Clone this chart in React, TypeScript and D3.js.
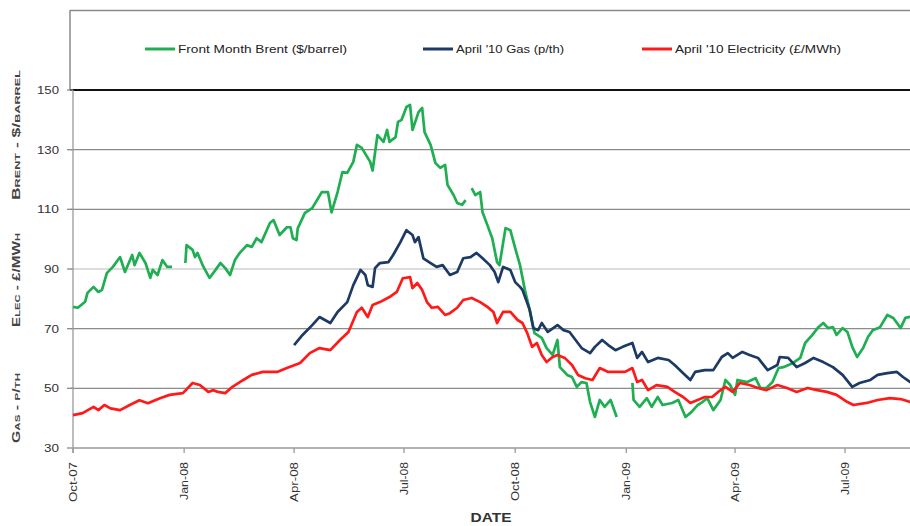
import React from "react";
import * as d3 from "d3";

type Pt = [string, number | null];

const brent: Pt[] = [
  ["2007-10-01", 77.3], ["2007-10-05", 77], ["2007-10-11", 79], ["2007-10-13", 82], ["2007-10-18", 84],
  ["2007-10-22", 82.3], ["2007-10-25", 83], ["2007-10-29", 88.6], ["2007-11-03", 90.7], ["2007-11-09", 94],
  ["2007-11-13", 89], ["2007-11-19", 94.7], ["2007-11-21", 91.3], ["2007-11-25", 95.4], ["2007-11-30", 92],
  ["2007-12-04", 87], ["2007-12-06", 89.7], ["2007-12-10", 88], ["2007-12-14", 93], ["2007-12-18", 90.7],
  ["2007-12-22", 90.7], ["2007-12-28", null],
  ["2008-01-02", 92], ["2008-01-03", 98], ["2008-01-08", 96.4], ["2008-01-10", 94], ["2008-01-12", 95.4],
  ["2008-01-17", 90.7], ["2008-01-22", 87], ["2008-01-27", 89.7], ["2008-01-31", 92], ["2008-02-04", 90.3],
  ["2008-02-08", 88], ["2008-02-12", 93], ["2008-02-16", 95.4], ["2008-02-22", 98], ["2008-02-26", 97.4],
  ["2008-03-01", 100.3], ["2008-03-05", 99], ["2008-03-12", 105.4], ["2008-03-15", 106.4], ["2008-03-20", 101.4],
  ["2008-03-26", 104], ["2008-03-29", 104], ["2008-03-31", 100.3], ["2008-04-03", 99.7], ["2008-04-04", 103.6],
  ["2008-04-10", 108.8], ["2008-04-16", 110.4], ["2008-04-24", 115.8], ["2008-04-29", 115.8], ["2008-05-02", 109],
  ["2008-05-07", 115.8], ["2008-05-11", 122.5], ["2008-05-15", 122.2], ["2008-05-20", 125.9], ["2008-05-23", 131.6],
  ["2008-05-27", 130.6], ["2008-06-03", 125.9], ["2008-06-05", 123], ["2008-06-09", 134.9], ["2008-06-14", 132.6],
  ["2008-06-17", 136.6], ["2008-06-19", 132.6], ["2008-06-24", 134.2], ["2008-06-26", 139.3], ["2008-06-29", 140],
  ["2008-07-03", 144.3], ["2008-07-06", 145], ["2008-07-08", 136.6], ["2008-07-13", 142.6], ["2008-07-16", 144],
  ["2008-07-18", 135.9], ["2008-07-23", 131.6], ["2008-07-27", 125.5], ["2008-07-31", 123.9], ["2008-08-04", 124.9],
  ["2008-08-06", 118.2], ["2008-08-11", 114.8], ["2008-08-14", 112.1], ["2008-08-18", 111.5], ["2008-08-21", 113.1],
  ["2008-08-24", null],
  ["2008-08-26", 117.1], ["2008-08-29", 114.8], ["2008-09-02", 115.8], ["2008-09-04", 109], ["2008-09-08", 104.7],
  ["2008-09-12", 100.3], ["2008-09-16", 92.3], ["2008-09-18", 91.3], ["2008-09-23", 103.7], ["2008-09-27", 103],
  ["2008-10-01", 97], ["2008-10-05", 91.3], ["2008-10-09", 83], ["2008-10-13", 76.3], ["2008-10-17", 68.5],
  ["2008-10-23", 66.9], ["2008-10-27", 63.5], ["2008-11-01", 61.2], ["2008-11-05", 66.2], ["2008-11-07", 57.1],
  ["2008-11-13", 54.5], ["2008-11-17", 53.8], ["2008-11-21", 50.5], ["2008-11-25", 52.1], ["2008-11-29", 51.8],
  ["2008-12-02", 45.4], ["2008-12-06", 40.4], ["2008-12-10", 46.1], ["2008-12-14", 43.8], ["2008-12-19", 46.1],
  ["2008-12-24", 40.4], ["2008-12-29", null],
  ["2009-01-06", 51.8], ["2009-01-07", 46.1], ["2009-01-12", 43.8], ["2009-01-18", 46.7], ["2009-01-22", 43.8],
  ["2009-01-27", 47.1], ["2009-01-31", 44.4], ["2009-02-08", 45.1], ["2009-02-13", 46.1], ["2009-02-19", 40.4],
  ["2009-02-24", 42.1], ["2009-03-01", 44.4], ["2009-03-05", 45.4], ["2009-03-09", 46.7], ["2009-03-14", 42.7],
  ["2009-03-20", 46.1], ["2009-03-24", 52.8], ["2009-03-28", 51.1], ["2009-04-01", 47.8], ["2009-04-03", 52.8],
  ["2009-04-11", 52.1], ["2009-04-18", 53.4], ["2009-04-22", 50.1], ["2009-04-27", 50.1], ["2009-05-02", 52.1],
  ["2009-05-07", 56.8], ["2009-05-11", 57.1], ["2009-05-19", 58.5], ["2009-05-25", 60.2], ["2009-05-29", 65.2],
  ["2009-06-04", 67.9], ["2009-06-09", 70.5], ["2009-06-13", 71.9], ["2009-06-17", 70.2], ["2009-06-21", 70.5],
  ["2009-06-24", 67.9], ["2009-06-29", 70.2], ["2009-07-03", 68.9], ["2009-07-07", 63.9], ["2009-07-11", 60.5],
  ["2009-07-16", 63.5], ["2009-07-20", 67.2], ["2009-07-24", 69.5], ["2009-07-30", 70.5], ["2009-08-05", 74.6],
  ["2009-08-10", 73.6], ["2009-08-16", 70.2], ["2009-08-20", 73.6], ["2009-08-24", 74], ["2009-08-28", 74],
];

const gas: Pt[] = [
  ["2008-04-01", 64.5], ["2008-04-08", 67.9], ["2008-04-16", 71.2], ["2008-04-22", 73.9], ["2008-05-01", 71.9],
  ["2008-05-07", 75.6], ["2008-05-15", 78.9], ["2008-05-20", 84.6], ["2008-05-26", 89.7], ["2008-05-30", 88],
  ["2008-06-01", 84.6], ["2008-06-05", 84], ["2008-06-07", 90.3], ["2008-06-11", 92], ["2008-06-18", 92.3],
  ["2008-06-22", 94.7], ["2008-06-28", 99], ["2008-07-03", 103], ["2008-07-08", 101.4], ["2008-07-10", 99],
  ["2008-07-13", 100.7], ["2008-07-17", 93.6], ["2008-07-23", 92], ["2008-07-28", 90.7], ["2008-08-02", 91.3],
  ["2008-08-08", 88], ["2008-08-14", 89], ["2008-08-19", 93.6], ["2008-08-25", 94], ["2008-08-30", 95.4],
  ["2008-09-04", 93.6], ["2008-09-10", 91.3], ["2008-09-14", 89], ["2008-09-17", 85.6], ["2008-09-21", 90.7],
  ["2008-09-27", 89.7], ["2008-10-01", 85.6], ["2008-10-05", 84], ["2008-10-07", 83], ["2008-10-11", 78.6],
  ["2008-10-13", 76.3], ["2008-10-16", 70.2], ["2008-10-20", 69.5], ["2008-10-23", 71.9], ["2008-10-28", 68.9],
  ["2008-11-05", 71.2], ["2008-11-10", 69.5], ["2008-11-15", 68.9], ["2008-11-20", 66.2], ["2008-11-25", 63.5],
  ["2008-12-02", 61.8], ["2008-12-06", 63.9], ["2008-12-12", 66.2], ["2008-12-17", 64.5], ["2008-12-23", 62.8],
  ["2008-12-29", 63.9], ["2009-01-06", 65.2], ["2009-01-10", 60.2], ["2009-01-14", 62.2], ["2009-01-19", 58.8],
  ["2009-01-27", 60.2], ["2009-02-05", 59.5], ["2009-02-10", 57.8], ["2009-02-16", 55.5], ["2009-02-23", 52.8],
  ["2009-02-27", 55.5], ["2009-03-07", 56.1], ["2009-03-14", 56.1], ["2009-03-21", 60.5], ["2009-03-26", 61.8],
  ["2009-03-30", 60.2], ["2009-04-07", 62.2], ["2009-04-13", 61.2], ["2009-04-20", 60.2], ["2009-04-28", 56.1],
  ["2009-05-06", 57.8], ["2009-05-08", 60.5], ["2009-05-15", 60.2], ["2009-05-22", 57.1], ["2009-05-29", 58.5],
  ["2009-06-05", 60.2], ["2009-06-13", 58.8], ["2009-06-21", 57.1], ["2009-06-29", 54.5], ["2009-07-07", 50.5],
  ["2009-07-13", 51.8], ["2009-07-22", 52.8], ["2009-07-28", 54.5], ["2009-08-05", 55.1], ["2009-08-13", 55.5],
  ["2009-08-18", 53.8], ["2009-08-24", 52.1], ["2009-08-28", 51.5],
];

const elec: Pt[] = [
  ["2007-10-01", 41], ["2007-10-09", 41.7], ["2007-10-18", 43.8], ["2007-10-22", 42.7], ["2007-10-27", 44.4],
  ["2007-11-01", 43.3], ["2007-11-09", 42.7], ["2007-11-17", 44.4], ["2007-11-25", 46], ["2007-12-02", 45],
  ["2007-12-12", 46.7], ["2007-12-20", 47.8], ["2007-12-31", 48.4], ["2008-01-08", 51.8], ["2008-01-14", 51.1],
  ["2008-01-21", 48.8], ["2008-01-25", 49.4], ["2008-01-29", 48.8], ["2008-02-04", 48.4], ["2008-02-10", 50.5],
  ["2008-02-19", 52.8], ["2008-02-26", 54.5], ["2008-03-06", 55.5], ["2008-03-18", 55.5], ["2008-03-26", 56.8],
  ["2008-04-06", 58.5], ["2008-04-14", 61.8], ["2008-04-22", 63.5], ["2008-05-01", 62.8], ["2008-05-09", 66.2],
  ["2008-05-16", 68.9], ["2008-05-23", 75.6], ["2008-05-27", 77], ["2008-06-01", 73.9], ["2008-06-05", 77.9],
  ["2008-06-11", 78.9], ["2008-06-19", 80.6], ["2008-06-25", 82.3], ["2008-06-30", 86.9], ["2008-07-06", 87.3],
  ["2008-07-08", 83.6], ["2008-07-12", 85.3], ["2008-07-16", 83], ["2008-07-20", 78.9], ["2008-07-24", 77],
  ["2008-07-29", 77.3], ["2008-08-04", 74.6], ["2008-08-08", 75.2], ["2008-08-14", 77], ["2008-08-19", 79.6],
  ["2008-08-26", 80.3], ["2008-09-02", 78.9], ["2008-09-08", 77.3], ["2008-09-13", 75.6], ["2008-09-16", 71.9],
  ["2008-09-21", 75.6], ["2008-09-27", 75.6], ["2008-10-03", 72.9], ["2008-10-07", 71.9], ["2008-10-11", 68.5],
  ["2008-10-15", 63.9], ["2008-10-19", 65.2], ["2008-10-23", 61.2], ["2008-10-27", 58.8], ["2008-11-01", 60.5],
  ["2008-11-05", 61.2], ["2008-11-11", 60.2], ["2008-11-17", 57.8], ["2008-11-22", 54.5], ["2008-11-28", 53.4],
  ["2008-12-04", 52.8], ["2008-12-10", 56.8], ["2008-12-17", 55.5], ["2008-12-24", 55.5], ["2008-12-31", 55.5],
  ["2009-01-06", 56.8], ["2009-01-10", 52.1], ["2009-01-14", 52.8], ["2009-01-19", 49.4], ["2009-01-26", 51.1],
  ["2009-02-04", 50.5], ["2009-02-10", 48.8], ["2009-02-17", 47.1], ["2009-02-23", 45.1], ["2009-03-01", 46.1],
  ["2009-03-07", 47.1], ["2009-03-13", 47.1], ["2009-03-18", 48.8], ["2009-03-24", 50.5], ["2009-03-30", 48.8],
  ["2009-04-05", 51.8], ["2009-04-13", 51.1], ["2009-04-20", 50.1], ["2009-04-27", 49.4], ["2009-05-06", 51.1],
  ["2009-05-14", 50.1], ["2009-05-22", 48.8], ["2009-05-31", 50.1], ["2009-06-08", 49.4], ["2009-06-16", 48.8],
  ["2009-06-24", 47.8], ["2009-07-03", 45.4], ["2009-07-08", 44.4], ["2009-07-19", 45.1], ["2009-07-28", 46.1],
  ["2009-08-07", 46.7], ["2009-08-16", 46.4], ["2009-08-24", 45.4], ["2009-08-28", 45.3],
];

const yTicks = [30, 50, 70, 90, 110, 130, 150];
const xTickDates = ["2007-10-01", "2008-01-01", "2008-04-01", "2008-07-01", "2008-10-01", "2009-01-01", "2009-04-01", "2009-07-01"];
const xTickLabels = ["Oct-07", "Jan-08", "Apr-08", "Jul-08", "Oct-08", "Jan-09", "Apr-09", "Jul-09"];

const seriesNames = ["Front Month Brent ($/barrel)", "April '10 Gas (p/th)", "April '10 Electricity (£/MWh)"];
const seriesColors = ["#1fae52", "#1c3a63", "#ff1a1a"];
const axisTitles = ["Gas - p/th", "Elec - £/MWh", "Brent - $/barrel"];

const W = 910;
const H = 526;

export default function App() {
  const parse = d3.utcParse("%Y-%m-%d");
  const x = d3.scaleUtc()
    .domain([parse("2007-10-01")!, parse("2009-07-01")!])
    .range([73, 845]);
  const y = d3.scaleLinear().domain([30, 150]).range([448, 90]);

  const line = d3.line<Pt>()
    .defined((d) => d[1] != null)
    .x((d) => x(parse(d[0])!))
    .y((d) => y(d[1] as number))
    .curve(d3.curveLinear);

  const allSeries = [brent, gas, elec];
  const legendX = [145, 423, 642];
  const legendTextLen = [169, 108, 166];
  const xLabelLen = [40, 38, 40, 33, 39, 38, 40, 33];
  const titleCenters = [408, 280, 135];
  const titleLens = [70, 94, 130];
  const font = "'Liberation Sans', Arial, sans-serif";

  return (
    <svg width={W} height={H} style={{ position: "absolute", left: 0, top: 0, background: "#fff" }} fontFamily={font}>
      <rect x={0} y={0} width={W} height={H} fill="#fff" />
      {/* legend box */}
      <line x1={70} x2={W} y1={10.5} y2={10.5} stroke="#8a8a8a" strokeWidth={1.5} />
      <line x1={70} x2={70} y1={10} y2={90} stroke="#8a8a8a" strokeWidth={1.5} />
      {seriesNames.map((n, i) => (
        <g key={n}>
          <line x1={legendX[i]} x2={legendX[i] + 30} y1={49} y2={49} stroke={seriesColors[i]} strokeWidth={3} />
          <text x={legendX[i] + 33} y={53} fontSize={11} fill="#222"
            textLength={legendTextLen[i]} lengthAdjust="spacingAndGlyphs">{n}</text>
        </g>
      ))}
      {/* gridlines */}
      {yTicks.map((t) => (
        <g key={t}>
          {t > 30 && (
            <line x1={70} x2={W} y1={y(t)} y2={y(t)}
              stroke={t === 150 ? "#111" : t === 90 ? "#d0d0d0" : "#8c8c8c"}
              strokeWidth={t === 150 ? 2 : 1.3} />
          )}
          <line x1={67} x2={73} y1={y(t)} y2={y(t)} stroke="#8c8c8c" strokeWidth={1.3} />
          <text x={59} y={y(t) + 4} fontSize={11} textAnchor="end" fill="#333"
            textLength={String(t).length === 3 ? 22 : 15} lengthAdjust="spacingAndGlyphs">{t}</text>
        </g>
      ))}
      {/* axes */}
      <line x1={73} x2={73} y1={90} y2={453} stroke="#9a9a9a" strokeWidth={1.3} />
      <line x1={73} x2={W} y1={448} y2={448} stroke="#9a9a9a" strokeWidth={1.3} />
      {xTickDates.map((d, i) => {
        const xp = x(parse(d)!);
        return (
          <g key={d}>
            <line x1={xp} x2={xp} y1={448} y2={453} stroke="#9a9a9a" strokeWidth={1.3} />
            <text transform={`translate(${xp + 4},${462}) rotate(-90)`} fontSize={10.5} textAnchor="end" fill="#333"
              textLength={xLabelLen[i]} lengthAdjust="spacingAndGlyphs">
              {xTickLabels[i]}
            </text>
          </g>
        );
      })}
      {/* series */}
      {allSeries.map((s, i) => (
        <path key={i} d={line(s) ?? ""} fill="none" stroke={seriesColors[i]} strokeWidth={2.7} strokeLinejoin="round" />
      ))}
      {/* axis titles */}
      <g fontWeight="bold" fontSize={11} fill="#444" style={{ fontVariant: "small-caps" }}>
        {axisTitles.map((t, i) => (
          <text key={t} transform={`translate(20,${titleCenters[i]}) rotate(-90)`} textAnchor="middle"
            textLength={titleLens[i]} lengthAdjust="spacingAndGlyphs">{t}</text>
        ))}
      </g>
      <text x={491} y={522} fontSize={12} fontWeight="bold" textAnchor="middle" fill="#333"
        textLength={41} lengthAdjust="spacingAndGlyphs">DATE</text>
    </svg>
  );
}
